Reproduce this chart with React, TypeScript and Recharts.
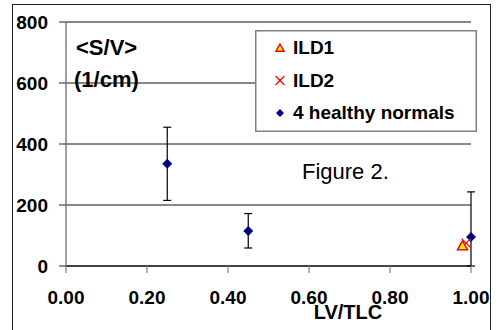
import React from 'react';
import { ScatterChart, Scatter, XAxis, YAxis, CartesianGrid, ErrorBar, Legend } from 'recharts';

const font = '"Liberation Sans", Arial, sans-serif';

// series values
const normalsX = [0.25, 0.45, 1.0];
const normalsY = [335, 115, 95];
const normalsErrLow = [120, 56, 95];
const normalsErrHigh = [120, 57, 148];

const ild1X = [0.979];
const ild1Y = [66];

const ild2X = [0.988];
const ild2Y = [75];

const xTicks = [0, 0.2, 0.4, 0.6, 0.8, 1.0];
const yTicks = [0, 200, 400, 600, 800];

const legendLabels = ['ILD1', 'ILD2', '4 healthy normals'];

const normals = normalsX.map((x, i) => ({ x, y: normalsY[i], err: [normalsErrLow[i], normalsErrHigh[i]] }));
const ild1 = ild1X.map((x, i) => ({ x, y: ild1Y[i] }));
const ild2 = ild2X.map((x, i) => ({ x, y: ild2Y[i] }));

const Diamond = ({ cx, cy, r = 5 }: any) => (
    <polygon points={`${cx},${cy - r} ${cx + r},${cy} ${cx},${cy + r} ${cx - r},${cy}`} fill="#000080" />
);

const Triangle = ({ cx, cy, r = 5 }: any) => (
    <polygon
        points={`${cx},${cy - r} ${cx + r},${cy + r * 0.8} ${cx - r},${cy + r * 0.8}`}
        fill="#ffff00"
        stroke="#ff0000"
        strokeWidth={1.5}
    />
);

const Cross = ({ cx, cy, r = 4 }: any) => (
    <g stroke="#ff0000" strokeWidth={1.2}>
        <line x1={cx - r} y1={cy - r} x2={cx + r} y2={cy + r} />
        <line x1={cx - r} y1={cy + r} x2={cx + r} y2={cy - r} />
    </g>
);

const LegendBox = () => {
    const markers = [Triangle, Cross, Diamond];
    const baselines = [24, 56.5, 89];
    return (
        <svg width={222} height={102} style={{ display: 'block' }}>
            <rect x={0.75} y={0.75} width={220.5} height={100.5} fill="#fff" stroke="#808080" strokeWidth={1.5} />
            {legendLabels.map((label, i) => {
                const M = markers[i];
                return (
                    <g key={label}>
                        <M cx={25} cy={baselines[i] - 6} r={i === 1 ? 4.5 : 4} />
                        <text x={38} y={baselines[i]} fontFamily={font} fontWeight="bold" fontSize={19} fill="#000">
                            {label}
                        </text>
                    </g>
                );
            })}
        </svg>
    );
};

const App = () => {
    return (
        <div style={{ position: 'absolute', left: 0, top: 0, width: 501, height: 330, overflow: 'hidden', background: '#fff', fontFamily: font }}>
            <div style={{ position: 'absolute', left: 12, top: 4, width: 479, height: 340, border: '1.5px solid #222', boxSizing: 'border-box' }} />
            <ScatterChart width={501} height={330} margin={{ top: 22, right: 30, bottom: 0, left: 0 }}>
                <CartesianGrid horizontal vertical={false} stroke="#111" strokeWidth={1} />
                <XAxis
                    type="number"
                    dataKey="x"
                    domain={[0, 1]}
                    ticks={xTicks}
                    height={64}
                    tickFormatter={(v: number) => v.toFixed(2)}
                    axisLine={{ stroke: '#000', strokeWidth: 1.2 }}
                    tickLine={{ stroke: '#808080', strokeWidth: 1.2 }}
                    tickSize={7}
                    tickMargin={17.5}
                    tick={{ fill: '#000', fontSize: 19, fontWeight: 'bold', fontFamily: font }}
                    interval={0}
                />
                <YAxis
                    type="number"
                    dataKey="y"
                    domain={[0, 800]}
                    ticks={yTicks}
                    width={66}
                    axisLine={{ stroke: '#808080', strokeWidth: 1.5 }}
                    tickLine={{ stroke: '#222', strokeWidth: 1 }}
                    tickSize={7}
                    tickMargin={11}
                    tick={{ fill: '#000', fontSize: 19, fontWeight: 'bold', fontFamily: font }}
                    interval={0}
                />
                <Legend
                    layout="vertical"
                    align="center"
                    verticalAlign="middle"
                    wrapperStyle={{ left: 255, top: 30, width: 222, height: 102 }}
                    content={() => <LegendBox />}
                />
                <Scatter name="4 healthy normals" data={normals} shape={(p: any) => <Diamond cx={p.cx} cy={p.cy} r={5} />} isAnimationActive={false}>
                    <ErrorBar dataKey="err" direction="y" width={4} stroke="#000" strokeWidth={1.2} isAnimationActive={false} />
                </Scatter>
                <Scatter name="ILD2" data={ild2} shape={(p: any) => <Cross cx={p.cx} cy={p.cy} r={4.5} />} isAnimationActive={false} />
                <Scatter name="ILD1" data={ild1} shape={(p: any) => <Triangle cx={p.cx} cy={p.cy} r={5} />} isAnimationActive={false} />
            </ScatterChart>
            <svg width={501} height={330} style={{ position: 'absolute', left: 0, top: 0, pointerEvents: 'none' }}>
                <text x={76} y={55} fontFamily={font} fontWeight="bold" fontSize={22} fill="#000">{'<S/V>'}</text>
                <text x={74} y={87} fontFamily={font} fontWeight="bold" fontSize={22} fill="#000">(1/cm)</text>
                <text x={302} y={179} fontFamily={font} fontSize={22} fill="#000">Figure 2.</text>
                <text x={348} y={319} textAnchor="middle" fontFamily={font} fontWeight="bold" fontSize={20} fill="#000">LV/TLC</text>
            </svg>
        </div>
    );
};

export default App;
